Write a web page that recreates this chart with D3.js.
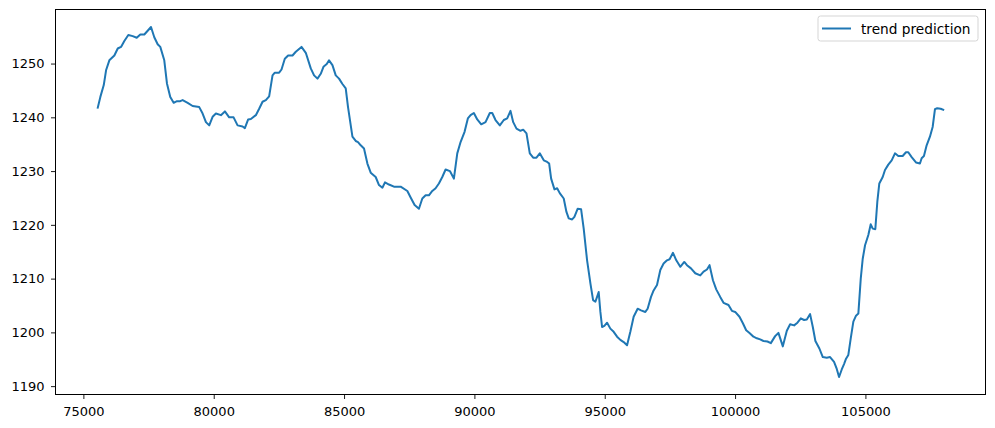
<!DOCTYPE html>
<html>
<head>
<meta charset="utf-8">
<script src="https://cdn.jsdelivr.net/npm/d3@7"></script>
<style>
  body { margin: 0; background: #fff; }
  text { font-family: "DejaVu Sans", sans-serif; }
</style>
</head>
<body>
<div id="chart"></div>
<script>
// values
var xValues = [
  75552, 75651, 75782, 75870, 75996, 76188, 76318, 76444, 76571, 76724,
  76893, 77046, 77184, 77337, 77467, 77594, 77720, 77850, 77950, 78103,
  78206, 78333, 78463, 78590, 78716, 78808, 79000, 79191, 79444, 79574,
  79701, 79827, 79957, 80084, 80275, 80429, 80593, 80762, 80915, 81107,
  81195, 81321, 81425, 81616, 81743, 81873, 81999, 82126, 82256, 82344,
  82509, 82601, 82727, 82854, 83022, 83149, 83367, 83532, 83723, 83850,
  83980, 84106, 84210, 84336, 84424, 84554, 84681, 84807, 84938, 85064,
  85152, 85321, 85447, 85535, 85639, 85765, 85895, 86022, 86213, 86340,
  86470, 86570, 86723, 86914, 87171, 87428, 87554, 87707, 87872, 88002,
  88129, 88255, 88385, 88512, 88638, 88768, 88895, 89060, 89213, 89343,
  89470, 89623, 89749, 89853, 89979, 90109, 90262, 90427, 90592, 90684,
  90810, 90975, 91128, 91258, 91385, 91489, 91615, 91768, 91872, 91998,
  92125, 92255, 92381, 92508, 92661, 92791, 92868, 92944, 93071, 93174,
  93274, 93427, 93531, 93619, 93749, 93837, 93963, 94094, 94193, 94323,
  94450, 94553, 94641, 94706, 94768, 94833, 94898, 94986, 95090, 95216,
  95343, 95473, 95599, 95726, 95856, 95982, 96109, 96262, 96392, 96557,
  96645, 96775, 96875, 97005, 97132, 97258, 97388, 97488, 97618, 97745,
  97898, 98051, 98155, 98308, 98473, 98664, 98791, 98921, 99021, 99151,
  99277, 99430, 99557, 99748, 99878, 100005, 100169, 100300, 100426, 100553,
  100706, 100836, 100962, 101089, 101242, 101372, 101537, 101663, 101832, 101985,
  102112, 102265, 102392, 102522, 102648, 102752, 102878, 102982, 103081, 103234,
  103365, 103518, 103644, 103797, 103901, 103989, 104092, 104180, 104257, 104345,
  104437, 104537, 104640, 104729, 104821, 104897, 104986, 105112, 105204, 105281,
  105380, 105457, 105533, 105663, 105751, 105878, 106008, 106134, 106261, 106429,
  106556, 106644, 106774, 106939, 107092, 107157, 107245, 107349, 107475, 107579,
  107667, 107755, 107885, 107985
];

var trendValues = [
  1241.8, 1243.8, 1246.0, 1248.75, 1250.6, 1251.5, 1252.8, 1253.1, 1254.2, 1255.3,
  1255.1, 1254.8, 1255.4, 1255.4, 1256.1, 1256.8, 1254.9, 1253.6, 1253.1, 1250.6,
  1246.3, 1243.8, 1242.7, 1243.0, 1243.0, 1243.2, 1242.7, 1242.1, 1241.9, 1240.7,
  1239.1, 1238.5, 1240.1, 1240.7, 1240.4, 1241.1, 1240.0, 1240.0, 1238.5, 1238.3,
  1238.0, 1239.6, 1239.7, 1240.4, 1241.6, 1242.9, 1243.2, 1243.9, 1247.8, 1248.3,
  1248.3, 1248.9, 1250.9, 1251.5, 1251.5, 1252.2, 1253.1, 1252.0, 1249.1, 1247.8,
  1247.2, 1248.1, 1249.4, 1249.9, 1250.6, 1249.7, 1247.8, 1247.2, 1246.2, 1245.4,
  1241.9, 1236.4, 1235.6, 1235.4, 1234.8, 1234.2, 1231.4, 1229.7, 1228.9, 1227.4,
  1226.9, 1227.9, 1227.5, 1227.1, 1227.1, 1226.3, 1225.1, 1223.7, 1223.0, 1224.9,
  1225.5, 1225.5, 1226.3, 1226.8, 1227.7, 1228.9, 1230.3, 1230.0, 1228.6, 1233.3,
  1235.4, 1237.3, 1239.8, 1240.4, 1240.8, 1239.6, 1238.7, 1239.1, 1240.8, 1240.8,
  1239.5, 1238.5, 1239.5, 1239.8, 1241.2, 1239.1, 1237.9, 1237.5, 1237.7, 1237.0,
  1233.3, 1232.5, 1232.5, 1233.3, 1232.0, 1231.7, 1231.4, 1228.6, 1226.6, 1226.8,
  1225.9, 1224.9, 1222.4, 1221.2, 1221.0, 1221.5, 1223.0, 1222.9, 1219.3, 1213.4,
  1209.1, 1206.0, 1205.7, 1206.6, 1207.5, 1203.8, 1201.0, 1201.2, 1201.8, 1200.7,
  1200.1, 1199.2, 1198.6, 1198.2, 1197.6, 1200.1, 1202.9, 1204.4, 1204.1, 1203.8,
  1204.4, 1206.6, 1207.8, 1208.8, 1211.6, 1212.8, 1213.4, 1213.6, 1214.8, 1213.4,
  1212.2, 1213.1, 1212.5, 1211.9, 1211.0, 1210.6, 1211.3, 1211.7, 1212.5, 1209.7,
  1208.0, 1206.6, 1205.5, 1205.1, 1204.0, 1203.8, 1202.9, 1201.7, 1200.4, 1199.9,
  1199.2, 1198.9, 1198.7, 1198.4, 1198.3, 1198.0, 1199.3, 1199.9, 1197.4, 1200.3,
  1201.5, 1201.3, 1201.8, 1202.6, 1202.3, 1202.4, 1203.4, 1201.0, 1198.4, 1197.0,
  1195.4, 1195.3, 1195.4, 1194.5, 1193.2, 1191.7, 1193.1, 1194.1, 1195.1, 1195.8,
  1198.9, 1202.0, 1203.1, 1203.5, 1210.0, 1213.7, 1216.2, 1218.1, 1220.1, 1219.3,
  1219.2, 1224.3, 1227.7, 1228.9, 1230.2, 1231.2, 1232.0, 1233.3, 1232.8, 1232.8,
  1233.5, 1233.5, 1232.6, 1231.6, 1231.4, 1232.4, 1232.8, 1234.8, 1236.4, 1238.2,
  1241.5, 1241.7, 1241.6, 1241.4
];

var xTicks = [75000, 80000, 85000, 90000, 95000, 100000, 105000];
var yTicks = [1190, 1200, 1210, 1220, 1230, 1240, 1250];
var seriesName = "trend prediction";

var svgWidth = 995;
var svgHeight = 428;

var margin = {
  top: 9.5,
  right: 9.5,
  bottom: 33.5,
  left: 55.5
};

var width = svgWidth - margin.left - margin.right;
var height = svgHeight - margin.top - margin.bottom;

var svg = d3.select("#chart").append("svg")
  .attr("width", svgWidth)
  .attr("height", svgHeight);

var data = xValues.map(function(x, i) {
  return { x: x, y: trendValues[i] };
});

// matplotlib style 5% padding around the data
var xExt = d3.extent(xValues);
var yExt = d3.extent(trendValues);
var xPad = (xExt[1] - xExt[0]) * 0.05;
var yPad = (yExt[1] - yExt[0]) * 0.05;

var xScale = d3.scaleLinear()
  .domain([xExt[0] - xPad, xExt[1] + xPad])
  .range([0, width]);

var yScale = d3.scaleLinear()
  .domain([yExt[0] - yPad, yExt[1] + yPad])
  .range([height, 0]);

var chartGroup = svg.append("g")
  .attr("transform", `translate(${margin.left}, ${margin.top})`);

var line = d3.line()
  .x(d => xScale(d.x))
  .y(d => yScale(d.y));

chartGroup.append("path")
  .datum(data)
  .attr("fill", "none")
  .attr("stroke", "#1f77b4")
  .attr("stroke-width", 2)
  .attr("stroke-linejoin", "round")
  .attr("stroke-linecap", "square")
  .attr("d", line);

var bottomAxis = d3.axisBottom(xScale)
  .tickValues(xTicks)
  .tickFormat(d3.format("d"))
  .tickSize(4.5)
  .tickPadding(8)
  .tickSizeOuter(0);

var leftAxis = d3.axisLeft(yScale)
  .tickValues(yTicks)
  .tickFormat(d3.format("d"))
  .tickSize(4.5)
  .tickPadding(6.5)
  .tickSizeOuter(0);

var xAxisG = chartGroup.append("g")
  .attr("transform", `translate(0, ${height})`)
  .call(bottomAxis);

var yAxisG = chartGroup.append("g")
  .call(leftAxis);

[xAxisG, yAxisG].forEach(function(g) {
  g.select(".domain").remove();
  g.selectAll(".tick line").attr("stroke", "#000").attr("stroke-width", 0.9);
  g.selectAll(".tick text")
    .attr("fill", "#000")
    .style("font-size", "13px")
    .style("font-family", "DejaVu Sans, sans-serif");
});

// frame
chartGroup.append("rect")
  .attr("x", 0)
  .attr("y", 0)
  .attr("width", width)
  .attr("height", height)
  .attr("fill", "none")
  .attr("stroke", "#000")
  .attr("stroke-width", 1);

// legend
var legend = svg.append("g")
  .attr("transform", "translate(818, 16)");

legend.append("rect")
  .attr("width", 160)
  .attr("height", 25)
  .attr("rx", 2.5)
  .attr("fill", "#fff")
  .attr("fill-opacity", 0.8)
  .attr("stroke", "#d5d5d5")
  .attr("stroke-width", 1);

legend.append("line")
  .attr("x1", 4)
  .attr("x2", 33)
  .attr("y1", 12.5)
  .attr("y2", 12.5)
  .attr("stroke", "#1f77b4")
  .attr("stroke-width", 2);

legend.append("text")
  .attr("x", 43)
  .attr("y", 17.5)
  .attr("fill", "#000")
  .style("font-size", "13.7px")
  .text(seriesName);
</script>
</body>
</html>
